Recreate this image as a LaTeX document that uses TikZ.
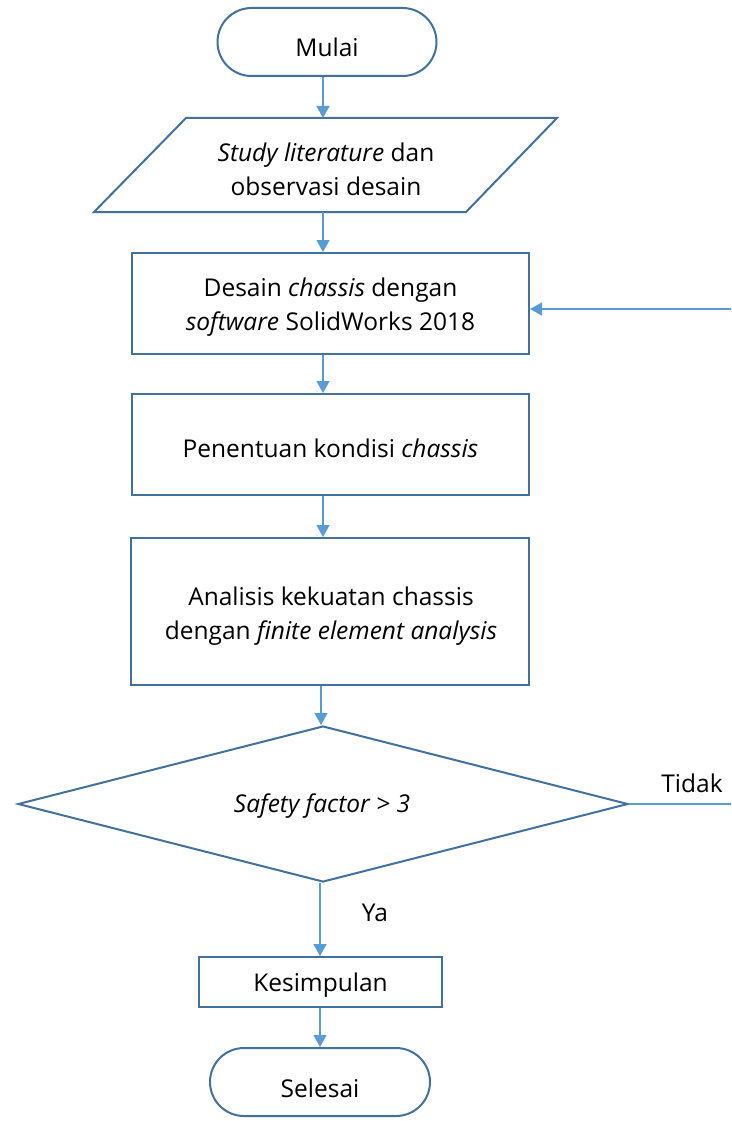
\documentclass[tikz,border=0pt]{standalone}
\usepackage{fontspec}
\setmainfont{Open Sans}
\usetikzlibrary{arrows.meta,shapes.geometric}
\definecolor{shapec}{HTML}{41719C}
\definecolor{arrowc}{HTML}{5B9BD5}
\begin{document}
\begin{tikzpicture}[x=1pt,y=-1pt,
  shp/.style={draw=shapec, line width=2pt, inner sep=0pt},
  txt/.style={font=\fontsize{24.5}{34}\selectfont, align=center, inner sep=0pt, text=black},
  conn/.style={draw=arrowc, line width=1.3pt},
  arr/.style={conn, -{Triangle[length=12pt,width=13pt]}}]
\useasboundingbox (0,0) rectangle (731,1121);

% Mulai
\node[shp, rounded corners=34pt, minimum width=219pt, minimum height=68pt] (mulai) at (327,42) {};
\node[txt] (mulaitxt) at (327,47) {Mulai};

% Parallelogram
\coordinate (pt) at (323,118);
\coordinate (pb) at (323,212);
\draw[shp] (186,118) -- (557,118) -- (466,212) -- (94,212) -- cycle;
\node[txt] (lit) at (326,169) {\textit{Study literature} dan\\observasi desain};

% Box 1
\node[shp, minimum width=397pt, minimum height=101pt] (b1) at (330.5,303.5) {};
\node[txt] (b1txt) at (330.5,307) {Desain \textit{chassis} dengan\\\textit{software} SolidWorks 2018};

% Box 2
\node[shp, minimum width=397pt, minimum height=101pt] (b2) at (330.5,444.5) {};
\node[txt] (b2txt) at (330.5,448) {Penentuan kondisi \textit{chassis}};

% Box 3
\node[shp, minimum width=398pt, minimum height=147pt] (b3) at (330,611.5) {};
\node[txt] (b3txt) at (331,616) {Analisis kekuatan chassis\\dengan \textit{finite element analysis}};

% Diamond
\node[shp, diamond, minimum width=610pt, minimum height=156pt, aspect=3.9] (dia) at (323,804) {};
\node[txt] (diatxt) at (322,806) {\textit{Safety factor > 3}};

% Kesimpulan
\node[shp, minimum width=243pt, minimum height=50pt] (kes) at (320.5,982) {};
\node[txt] (kestxt) at (320.5,985) {Kesimpulan};

% Selesai
\node[shp, rounded corners=34pt, minimum width=220pt, minimum height=68pt] (sel) at (320,1082) {};
\node[txt] (seltxt) at (320,1088) {Selesai};

% Connectors
\draw[arr] (pt |- mulai.south) -- (pt);
\draw[arr] (pb) -- (pb |- b1.north);
\draw[arr] (b1.south -| pt) -- (b2.north -| pt);
\draw[arr] (b2.south -| pt) -- (b3.north -| pt);
\coordinate (cx) at (321,0);
\draw[arr] (b3.south -| cx) -- (dia.north -| cx);
\coordinate (cy) at (320,0);
\draw[arr] (dia.south -| cy) -- (kes.north -| cy);
\draw[arr] (kes.south -| cy) -- (sel.north -| cy);

\coordinate (tR) at (731,804);
\draw[conn] (dia.east) -- (tR);
\node[txt] (tidak) at (692,783) {Tidak};
\node[txt] (ya) at (375,913) {Ya};

\coordinate (rR) at (731,309);
\draw[arr] (rR) -- (b1.east |- rR);
\end{tikzpicture}
\end{document}
